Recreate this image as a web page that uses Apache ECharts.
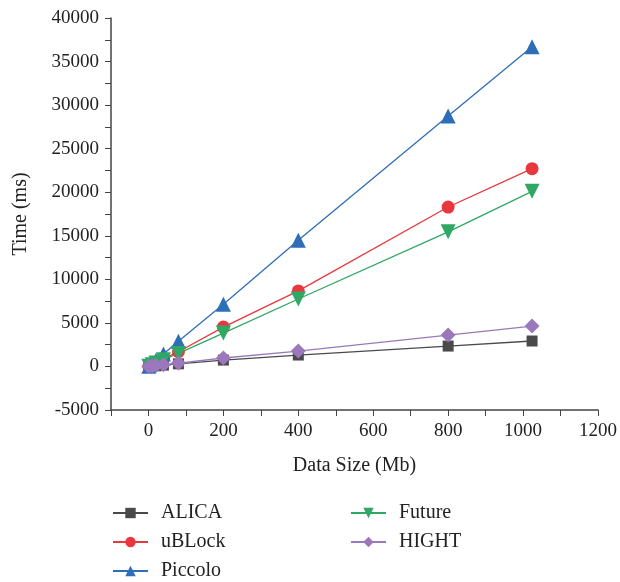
<!DOCTYPE html>
<html>
<head>
<meta charset="utf-8">
<script src="https://cdn.jsdelivr.net/npm/echarts@6/dist/echarts.min.js"></script>
<style>
html, body { margin: 0; padding: 0; background: #fff; }
#chart { width: 620px; height: 582px; }
</style>
</head>
<body>
<div id="chart"></div>
<script>
const dataSize = [1, 10, 20, 40, 80, 200, 400, 800, 1024];
const alica   = [3, 40, 75, 150, 300, 730, 1310, 2340, 2920];
const ublock  = [22, 220, 440, 890, 1690, 4520, 8670, 18300, 22700];
const piccolo = [36, 360, 720, 1430, 2900, 7150, 14500, 28750, 36700];
const future  = [20, 200, 390, 780, 1500, 3830, 7740, 15450, 20100];
const hight   = [5, 50, 100, 200, 390, 970, 1770, 3600, 4640];

const serif = '"Liberation Serif", "DejaVu Serif", serif';
const axisColor = '#444';

const pairs = (ys) => dataSize.map((x, i) => [x, ys[i]]);

const makeSeries = (name, ys, color, symbol, size, rotate) => ({
    name: name,
    type: 'line',
    data: pairs(ys),
    symbol: symbol,
    symbolSize: size,
    symbolRotate: rotate || 0,
    showAllSymbol: true,
    color: color,
    lineStyle: { color: color, width: 1.3 },
    itemStyle: { color: color },
    emphasis: { disabled: true },
    z: 2
});

const legendText = { fontFamily: serif, fontSize: 20, color: '#222', padding: [0, 0, 0, 8] };

const option = {
    animation: false,
    backgroundColor: '#fff',
    grid: { left: 111, right: 19, top: 18, bottom: 172 },
    legend: [
        {
            data: ['ALICA', 'uBLock', 'Piccolo'],
            orient: 'vertical',
            left: 112, top: 503, padding: 0,
            itemWidth: 35, itemHeight: 13, itemGap: 9,
            textStyle: legendText
        },
        {
            data: ['Future', 'HIGHT'],
            orient: 'vertical',
            left: 350, top: 503, padding: 0,
            itemWidth: 35, itemHeight: 13, itemGap: 9,
            textStyle: legendText
        }
    ],
    xAxis: {
        type: 'value',
        min: -100, max: 1200, interval: 100,
        name: 'Data Size (Mb)',
        nameLocation: 'middle',
        nameGap: 46,
        nameTextStyle: { fontFamily: serif, fontSize: 20, color: '#222' },
        axisLine: { onZero: false, lineStyle: { color: axisColor, width: 1.5 } },
        axisTick: { show: true, length: 6, lineStyle: { color: axisColor } },
        axisLabel: {
            fontFamily: serif, fontSize: 19, color: '#222', margin: 12,
            formatter: v => (v % 200 === 0 ? String(v) : '')
        },
        splitLine: { show: false }
    },
    yAxis: {
        type: 'value',
        min: -5000, max: 40000, interval: 2500,
        name: 'Time (ms)',
        nameLocation: 'middle',
        nameGap: 80,
        nameTextStyle: { fontFamily: serif, fontSize: 20, color: '#222' },
        axisLine: { show: true, onZero: false, lineStyle: { color: axisColor, width: 1.5 } },
        axisTick: { show: true, length: 6, lineStyle: { color: axisColor } },
        axisLabel: {
            fontFamily: serif, fontSize: 19, color: '#222', margin: 12,
            formatter: v => (v % 5000 === 0 ? String(v) : '')
        },
        splitLine: { show: false }
    },
    series: [
        makeSeries('ALICA', alica, '#4a4a4a', 'rect', 11),
        makeSeries('uBLock', ublock, '#e8383d', 'circle', 13),
        makeSeries('Piccolo', piccolo, '#2e6db8', 'triangle', 15),
        makeSeries('Future', future, '#2ea864', 'triangle', 15, 180),
        makeSeries('HIGHT', hight, '#9b78bb', 'diamond', 15)
    ]
};

const myChart = echarts.init(document.getElementById('chart'));
myChart.setOption(option);
</script>
</body>
</html>
